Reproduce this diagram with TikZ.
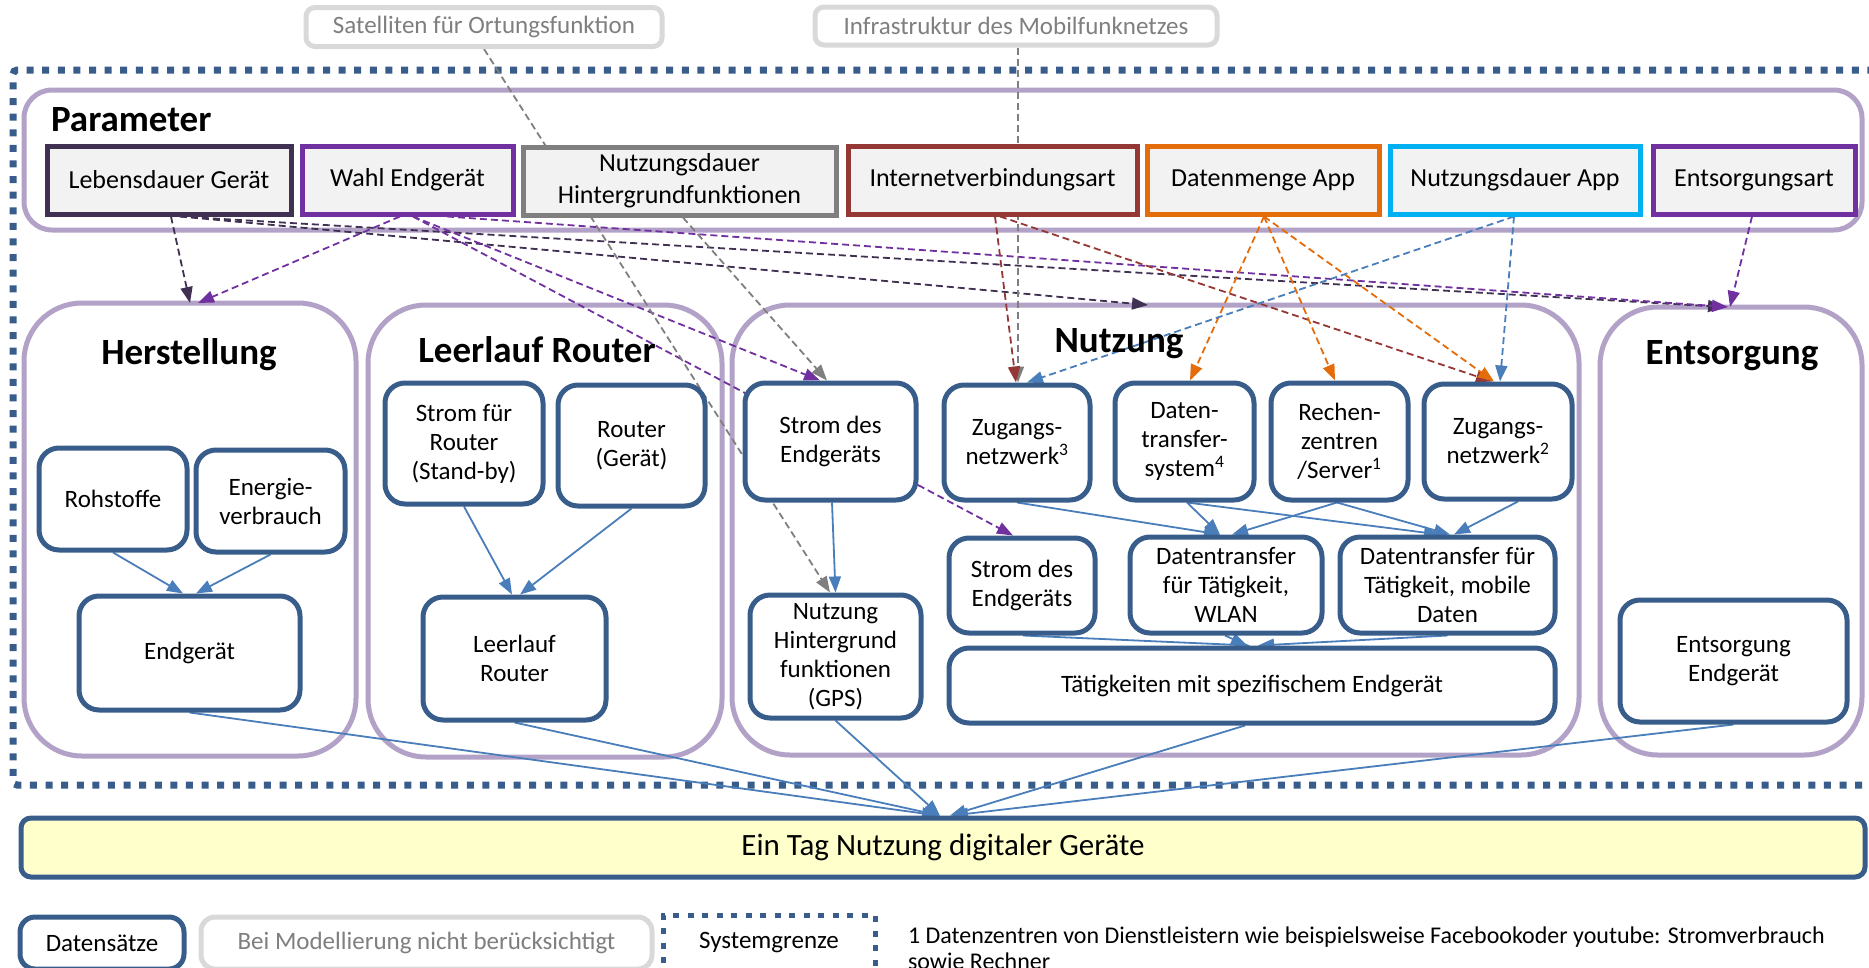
\documentclass[tikz,border=0pt]{standalone}
\usepackage{fontspec}
\setmainfont{Carlito}
\usetikzlibrary{arrows.meta,calc}
\definecolor{lila}{HTML}{B3A2C7}
\definecolor{dblue}{HTML}{385D8A}
\definecolor{ablue}{HTML}{4A7EBB}
\definecolor{pfill}{HTML}{F2F2F2}
\definecolor{cleb}{HTML}{403152}
\definecolor{cwahl}{HTML}{7030A0}
\definecolor{cgray}{HTML}{7F7F7F}
\definecolor{cinet}{HTML}{953735}
\definecolor{corange}{HTML}{E46C0A}
\definecolor{ccyan}{HTML}{00B0F0}
\definecolor{lgray}{HTML}{D9D9D9}
\definecolor{yfill}{HTML}{FFFFCC}
\pgfdeclarelayer{bg}
\pgfdeclarelayer{mid}
\pgfsetlayers{bg,mid,main}
\begin{document}
\begin{tikzpicture}[x=1pt,y=-1pt,
 every node/.style={inner sep=0pt, outer sep=0pt},
 txt/.style={font=\fontsize{25}{29}\selectfont, align=center},
 ptxt/.style={font=\fontsize{26}{32}\selectfont, align=center},
 stage/.style={draw=lila, line width=5pt, rounded corners=58pt},
 dbox/.style={txt, draw=dblue, line width=5pt, rounded corners=20pt, fill=white, outer sep=2.5pt},
 pbox/.style={ptxt, draw=#1, line width=5pt, fill=pfill, minimum height=68pt, outer sep=2.5pt},
 gbox/.style={txt, draw=lgray, line width=5pt, rounded corners=9pt, fill=white, text=cgray, outer sep=2.5pt},
 ttl/.style={font=\fontsize{37}{44}\selectfont\bfseries, anchor=base},
 darr/.style={draw=#1, line width=1.8pt, dash pattern=on 7pt off 4pt, -{Triangle[length=16pt,width=12pt]}},
 sarr/.style={draw=ablue, line width=1.8pt, -{Triangle[length=16pt,width=12pt]}},
]
\useasboundingbox (0,0) rectangle (1869,967);
\clip (0,0) rectangle (1869,967);

% ---------- frames ----------
\begin{pgfonlayer}{bg}
\draw[dblue, line width=7pt, dash pattern=on 7pt off 8.6pt, rounded corners=4pt]
  (1890,70) -- (13,70) -- (13,785) -- (1890,785);
\node[draw=lila, line width=5pt, rounded corners=28pt, minimum width=1838pt, minimum height=140pt] (param) at (943,160) {};
\node[stage, minimum width=332pt, minimum height=453pt] (herst) at (190,529.5) {};
\node[stage, minimum width=354pt, minimum height=452pt] (leer) at (545,531) {};
\node[stage, minimum width=847pt, minimum height=450pt] (nutz) at (1155.5,530) {};
\node[stage, minimum width=262pt, minimum height=448pt] (entsg) at (1731,531) {};
\end{pgfonlayer}

% ---------- titles ----------
\node[ttl, anchor=base west] (tparam) at (51,131) {Parameter};
\node[ttl] (therst) at (189,364) {Herstellung};
\node[ttl] (tleer) at (537,362) {Leerlauf Router};
\node[ttl] (tnutz) at (1119,352) {Nutzung};
\node[ttl] (tentsg) at (1732,364) {Entsorgung};

% ---------- top gray boxes ----------
\node[gbox, minimum width=356pt, minimum height=39pt] (sat) at (484,27) {Satelliten für Ortungsfunktion};
\node[gbox, minimum width=402pt, minimum height=38pt] (infra) at (1016,26) {Infrastruktur des Mobilfunknetzes};

% ---------- parameter boxes ----------
\node[pbox=cleb, minimum width=244pt] (leb) at (169,180) {Lebensdauer Gerät};
\node[pbox=cwahl, minimum width=211pt] (wahl) at (407.5,180) {Wahl Endgerät};
\node[pbox=cgray, minimum width=313pt] (nhf) at (679.5,181) {Nutzungsdauer\\Hintergrundfunktionen};
\node[pbox=cinet, minimum width=289pt] (inet) at (992.5,180) {Internetverbindungsart};
\node[pbox=corange, minimum width=232pt] (dm) at (1263,180) {Datenmenge App};
\node[pbox=ccyan, minimum width=250pt] (nda) at (1515,180) {Nutzungsdauer App};
\node[pbox=cwahl, minimum width=202pt] (eart) at (1754,180) {Entsorgungsart};

% ---------- Herstellung ----------
\node[dbox, minimum width=148pt, minimum height=102pt] (roh) at (113,499) {Rohstoffe};
\node[dbox, minimum width=149pt, minimum height=102pt] (ener) at (270.5,501) {Energie-\\verbrauch};
\node[dbox, minimum width=221pt, minimum height=114pt] (endg) at (189.5,653) {Endgerät};

% ---------- Leerlauf Router ----------
\node[dbox, minimum width=158pt, minimum height=121pt] (sfr) at (464,443.5) {Strom für\\Router\\(Stand-by)};
\node[dbox, minimum width=147pt, minimum height=121pt] (rg) at (631.5,445.5) {Router\\(Gerät)};
\node[dbox, minimum width=183pt, minimum height=123pt] (lr) at (514.5,658.5) {Leerlauf\\Router};

% ---------- Nutzung ----------
\node[dbox, minimum width=171pt, minimum height=117pt] (str1) at (830.5,441.5) {Strom des\\Endgeräts};
\node[dbox, minimum width=146pt, minimum height=115pt] (zn3) at (1017,442.5) {Zugangs-\\netzwerk\textsuperscript{3}};
\node[dbox, minimum width=139pt, minimum height=117pt] (dts) at (1184.5,441.5) {Daten-\\transfer-\\system\textsuperscript{4}};
\node[dbox, minimum width=137pt, minimum height=117pt] (rz) at (1339.5,441.5) {Rechen-\\zentren\\/Server\textsuperscript{1}};
\node[dbox, minimum width=148pt, minimum height=115pt] (zn2) at (1498,441.5) {Zugangs-\\netzwerk\textsuperscript{2}};
\node[dbox, minimum width=146pt, minimum height=95pt] (str2) at (1022,585.5) {Strom des\\Endgeräts};
\node[dbox, minimum width=192pt, minimum height=96pt] (dtw) at (1226,585) {Datentransfer\\für Tätigkeit,\\WLAN};
\node[dbox, minimum width=215pt, minimum height=96pt] (dtm) at (1447.5,585) {Datentransfer für\\Tätigkeit, mobile\\Daten};
\node[dbox, minimum width=171pt, minimum height=123pt] (gps) at (835.5,656.5) {Nutzung\\Hintergrund\\funktionen\\(GPS)};
\node[dbox, minimum width=606pt, minimum height=75pt] (tat) at (1252,685.5) {Tätigkeiten mit spezifischem Endgerät};

% ---------- Entsorgung ----------
\node[dbox, minimum width=227pt, minimum height=122pt] (ee) at (1733.5,661) {Entsorgung\\Endgerät};

% ---------- result ----------
\node[txt, draw=dblue, line width=5pt, rounded corners=10pt, fill=yfill, outer sep=2.5pt,
      minimum width=1844pt, minimum height=59pt, font=\fontsize{31}{36}\selectfont] (eintag) at (943,847.5) {Ein Tag Nutzung digitaler Geräte};

% ---------- legend ----------
\node[dbox, rounded corners=15pt, minimum width=164pt, minimum height=52pt] (lds) at (102,943) {Datensätze};
\node[gbox, rounded corners=14pt, minimum width=451pt, minimum height=52pt] (lbm) at (426.5,943) {Bei Modellierung nicht berücksichtigt};
\node[txt, draw=dblue, line width=5pt, dash pattern=on 6pt off 8.5pt, minimum width=212pt, minimum height=56pt] (lsg) at (769,943) {Systemgrenze};
\node[anchor=base west, align=left, font=\fontsize{24}{26}\selectfont] (fn) at (908,969) {1 Datenzentren von Dienstleistern wie beispielsweise Facebookoder youtube: Stromverbrauch\\sowie Rechner};

% ---------- connectors ----------
\begin{pgfonlayer}{mid}
% Lebensdauer Geraet
\draw[darr=cleb] ($(leb.south)+(2,0)$) -- (herst.north);
\draw[darr=cleb] ($(leb.south)+(11,0)$) -- ($(nutz.north)+(-7.5,0)$);
\draw[darr=cleb] ($(leb.south)+(11,0)$) -- ($(entsg.north)+(-7,0)$);
% Wahl Endgeraet
\draw[darr=cwahl] ($(wahl.south)+(-7.5,0)$) -- ($(herst.north)+(8,0)$);
\draw[darr=cwahl] ($(wahl.south)+(5.5,0)$) -- ($(str1.north)+(-10.5,0)$);
\draw[darr=cwahl] ($(wahl.south)+(5.5,0)$) -- ($(str2.north)+(-9,0)$);
\draw[darr=cwahl] ($(wahl.south)+(39.5,0)$) -- ($(entsg.north)+(-3,0)$);
% Nutzungsdauer Hintergrundfunktionen / Satelliten / Infrastruktur
\draw[darr=cgray] ($(nhf.south)+(3.5,0)$) -- ($(str1.north)+(-3.5,0)$);
\draw[darr=cgray] (sat.south) -- ($(gps.north)+(-5.5,0)$);
\draw[darr=cgray] ($(infra.south)+(2,0)$) -- ($(zn3.north)+(1,0)$);
% Internetverbindungsart
\draw[darr=cinet] ($(inet.south)+(2.5,0)$) -- ($(zn3.north)+(-1,0)$);
\draw[darr=cinet] ($(inet.south)+(7.5,0)$) -- ($(zn2.north)+(-6,0)$);
% Datenmenge App
\draw[darr=corange] ($(dm.south)+(1,0)$) -- ($(dts.north)+(5.5,0)$);
\draw[darr=corange] ($(dm.south)+(1,0)$) -- ($(rz.north)+(-4.5,0)$);
\draw[darr=corange] ($(dm.south)+(1,0)$) -- ($(zn2.north)+(-4,0)$);
% Nutzungsdauer App
\draw[darr=ablue] ($(nda.south)+(-1,0)$) -- ($(zn3.north)+(10,0)$);
\draw[darr=ablue] ($(nda.south)+(-1,0)$) -- ($(zn2.north)+(2,0)$);
% Entsorgungsart
\draw[darr=cwahl] ($(eart.south)+(-2,0)$) -- ($(entsg.north)+(-1,0)$);

% solid data flows
\draw[sarr] (roh.south) -- ($(endg.north)+(-6.5,0)$);
\draw[sarr] (ener.south) -- ($(endg.north)+(6.5,0)$);
\draw[sarr] (sfr.south) -- ($(lr.north)+(-2.5,0)$);
\draw[sarr] (rg.south) -- ($(lr.north)+(5.5,0)$);
\draw[sarr] ($(str1.south)+(1.5,0)$) -- (gps.north);
\draw[sarr] (zn3.south) -- ($(dtw.north)+(-6,0)$);
\draw[sarr] ($(dts.south)+(2.5,0)$) -- ($(dtw.north)+(-6,0)$);
\draw[sarr] ($(dts.south)+(2.5,0)$) -- ($(dtm.north)+(-7.5,0)$);
\draw[sarr] ($(rz.south)+(-2.5,0)$) -- ($(dtw.north)+(6,0)$);
\draw[sarr] ($(rz.south)+(-2.5,0)$) -- ($(dtm.north)+(2.5,0)$);
\draw[sarr] ($(zn2.south)+(20,0)$) -- ($(dtm.north)+(6.5,0)$);
\draw[sarr] ($(str2.south)+(1,0)$) -- ($(tat.north)+(-2,0)$);
\draw[sarr] ($(dtw.south)+(-1,0)$) -- ($(tat.north)+(-5,0)$);
\draw[sarr] (dtm.south) -- ($(tat.north)+(6,0)$);
\draw[sarr] (endg.south) -- ($(eintag.north)+(-5,0)$);
\draw[sarr] (lr.south) -- ($(eintag.north)+(-3,0)$);
\draw[sarr] (gps.south) -- ($(eintag.north)+(-3,0)$);
\draw[sarr] ($(tat.south)+(-7,0)$) -- ($(eintag.north)+(7,0)$);
\draw[sarr] (ee.south) -- ($(eintag.north)+(9,0)$);
\end{pgfonlayer}
\end{tikzpicture}
\end{document}
